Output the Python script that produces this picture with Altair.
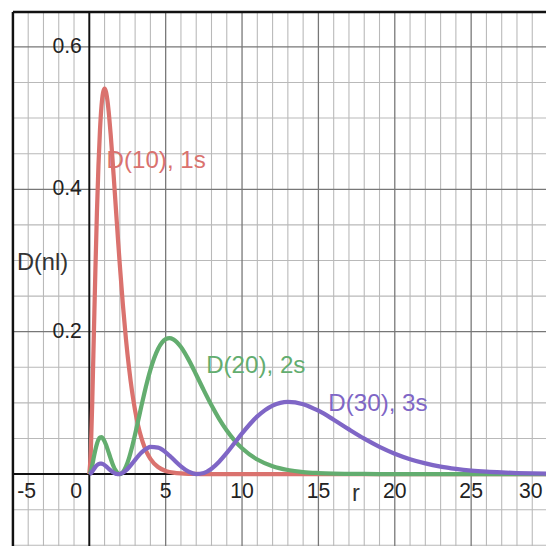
import altair as alt
import pandas as pd

# radial positions (Bohr radii)
r = [0, 0.1, 0.2, 0.3, 0.4, 0.5, 0.6, 0.7, 0.8, 0.9, 1.0, 1.1, 1.2, 1.3, 1.4, 1.5, 1.6, 1.7, 1.8, 1.9, 2.0,
     2.2, 2.4, 2.6, 2.8, 3.0, 3.2, 3.4, 3.6, 3.8, 4.0,
     4.5, 5.0, 5.25, 5.5, 6.0, 6.5, 7.0, 7.5, 8.0, 8.5, 9.0, 9.5, 10,
     11, 12, 13, 14, 15, 16, 17, 18, 19, 20, 21, 22, 23, 24, 25, 26, 27, 28, 29, 30]

d_1s = [0, 0.0327, 0.1073, 0.1976, 0.2876, 0.3679, 0.4337, 0.4833, 0.5169, 0.5356, 0.5413, 0.5363, 0.5225,
        0.5021, 0.4767, 0.4481, 0.4174, 0.3858, 0.3541, 0.3230, 0.2931,
        0.2377, 0.1896, 0.1492, 0.1160, 0.0892, 0.0681, 0.0515, 0.0387, 0.0289, 0.0215,
        0.0100, 0.0045, 0.0030, 0.0020, 0.0009, 0.0004, 0.0002, 0.0001, 0.00003, 0.00001, 0, 0, 0,
        0, 0, 0, 0, 0, 0, 0, 0, 0, 0, 0, 0, 0, 0, 0, 0, 0, 0, 0, 0]

d_2s = [0, 0.0041, 0.0133, 0.0241, 0.0343, 0.0426, 0.0484, 0.0514, 0.0518, 0.0498, 0.0460, 0.0408, 0.0347,
        0.0282, 0.0218, 0.0157, 0.0103, 0.0059, 0.0027, 0.0007, 0,
        0.0027, 0.0105, 0.0226, 0.0381, 0.0560, 0.0751, 0.0945, 0.1133, 0.1308, 0.1465,
        0.1757, 0.1895, 0.1910, 0.1893, 0.1785, 0.1608, 0.1396, 0.1176, 0.0966, 0.0776, 0.0612, 0.0475, 0.0363,
        0.0205, 0.0111, 0.0058, 0.0029, 0.0015, 0.0007, 0.0003, 0.0002, 0.0001, 0.00003,
        0, 0, 0, 0, 0, 0, 0, 0, 0, 0]

d_3s = [0, 0.0012, 0.0039, 0.0071, 0.0101, 0.0125, 0.0140, 0.0148, 0.0147, 0.0139, 0.0126, 0.0109, 0.0090,
        0.0070, 0.0051, 0.0034, 0.0020, 0.0009, 0.0002, 0.0000, 0.0002,
        0.0019, 0.0052, 0.0096, 0.0147, 0.0200, 0.0252, 0.0299, 0.0337, 0.0365, 0.0382,
        0.0373, 0.0306, 0.0259, 0.0208, 0.0109, 0.0034, 0.0001, 0.0016, 0.0076, 0.0174, 0.0297, 0.0434, 0.0571,
        0.0810, 0.0962, 0.1015, 0.0982, 0.0890, 0.0764, 0.0628, 0.0498, 0.0383, 0.0287,
        0.0210, 0.0151, 0.0106, 0.0074, 0.0050, 0.0034, 0.0023, 0.0015, 0.0010, 0.0006]

series_names = ["1s", "2s", "3s"]
series_colors = ["#da726e", "#63ad6f", "#7f66c6"]

# curve labels
curve_labels = ["D(10), 1s", "D(20), 2s", "D(30), 3s"]
curve_label_x = [1.13, 7.65, 15.65]
curve_label_y = [0.439, 0.151, 0.099]

# tick labels
x_tick_text = ["-5", "0", "5", "10", "15", "20", "25", "30"]
x_tick_pos = [-4.1, -0.86, 5, 10, 15, 20, 25, 28.9]
y_tick_text = ["0.2", "0.4", "0.6"]
y_tick_pos = [0.2, 0.4, 0.6]

# grid positions
minor_x = [v for v in range(-4, 30) if v % 5 != 0]
major_x = [5, 10, 15, 20, 25]
minor_y = [round(-0.1 + 0.05 * i, 2) for i in range(15)]
minor_y = [v for v in minor_y if abs(v / 0.2 - round(v / 0.2)) > 1e-6]
major_y = [0.2, 0.4, 0.6]

X_DOM = [-5, 29.9]
Y_DOM = [-0.101, 0.649]
xs = alt.Scale(domain=X_DOM, nice=False, zero=False)
ys = alt.Scale(domain=Y_DOM, nice=False, zero=False)

FONT = "Liberation Sans"

rows = []
for name, vals in zip(series_names, [d_1s, d_2s, d_3s]):
    for ri, v in zip(r, vals):
        rows.append({"r": ri, "D": v, "orbital": name})
df = pd.DataFrame(rows)

color_scale = alt.Scale(domain=series_names, range=series_colors)

vgrid_minor = alt.Chart(pd.DataFrame({"x": minor_x})).mark_rule(color="#b9b9b9", strokeWidth=1.1).encode(
    x=alt.X("x:Q", scale=xs, axis=None))
vgrid_major = alt.Chart(pd.DataFrame({"x": major_x})).mark_rule(color="#777777", strokeWidth=1.3).encode(
    x=alt.X("x:Q", scale=xs, axis=None))
hgrid_minor = alt.Chart(pd.DataFrame({"y": minor_y})).mark_rule(color="#b9b9b9", strokeWidth=1.1).encode(
    y=alt.Y("y:Q", scale=ys, axis=None))
hgrid_major = alt.Chart(pd.DataFrame({"y": major_y})).mark_rule(color="#777777", strokeWidth=1.3).encode(
    y=alt.Y("y:Q", scale=ys, axis=None))

axis_x0 = alt.Chart(pd.DataFrame({"x": [0]})).mark_rule(color="#111111", strokeWidth=2).encode(
    x=alt.X("x:Q", scale=xs, axis=None))
axis_y0 = alt.Chart(pd.DataFrame({"y": [0]})).mark_rule(color="#111111", strokeWidth=2).encode(
    y=alt.Y("y:Q", scale=ys, axis=None))
border_left = alt.Chart(pd.DataFrame({"x": [X_DOM[0]]})).mark_rule(color="#111111", strokeWidth=2.5).encode(
    x=alt.X("x:Q", scale=xs, axis=None))
border_top = alt.Chart(pd.DataFrame({"y": [Y_DOM[1]]})).mark_rule(color="#111111", strokeWidth=2.5).encode(
    y=alt.Y("y:Q", scale=ys, axis=None))

curves = alt.Chart(df).mark_line(strokeWidth=4.3, interpolate="monotone", clip=True).encode(
    x=alt.X("r:Q", scale=xs, axis=None),
    y=alt.Y("D:Q", scale=ys, axis=None),
    color=alt.Color("orbital:N", scale=color_scale, legend=None),
    detail="orbital:N",
)

lab_df = pd.DataFrame({"x": curve_label_x, "y": curve_label_y, "t": curve_labels, "orbital": series_names})
curve_text = alt.Chart(lab_df).mark_text(align="left", baseline="middle", fontSize=24.5, font=FONT).encode(
    x=alt.X("x:Q", scale=xs, axis=None),
    y=alt.Y("y:Q", scale=ys, axis=None),
    text="t:N",
    color=alt.Color("orbital:N", scale=color_scale, legend=None),
)

xt_df = pd.DataFrame({"x": x_tick_pos, "t": x_tick_text})
x_ticks = alt.Chart(xt_df).mark_text(align="center", baseline="middle", fontSize=21.5, font=FONT,
                                     color="#222222").encode(
    x=alt.X("x:Q", scale=xs, axis=None),
    y=alt.value(487),
    text="t:N",
)
yt_df = pd.DataFrame({"y": y_tick_pos, "t": y_tick_text})
y_ticks = alt.Chart(yt_df).mark_text(align="right", baseline="middle", fontSize=21.5, font=FONT,
                                     color="#222222").encode(
    x=alt.value(70),
    y=alt.Y("y:Q", scale=ys, axis=None),
    text="t:N",
)

ax_df = pd.DataFrame({"x": [-4.74, 17.45], "y": [0.297, -0.028], "t": ["D(nl)", "r"]})
ax_left = alt.Chart(ax_df.iloc[[0]]).mark_text(align="left", baseline="middle", fontSize=24,
                                               font=FONT, color="#333333").encode(
    x=alt.X("x:Q", scale=xs, axis=None), y=alt.Y("y:Q", scale=ys, axis=None), text="t:N")
ax_r = alt.Chart(ax_df.iloc[[1]]).mark_text(align="center", baseline="middle", fontSize=24,
                                            font=FONT, color="#333333").encode(
    x=alt.X("x:Q", scale=xs, axis=None), y=alt.Y("y:Q", scale=ys, axis=None), text="t:N")

chart = alt.layer(
    vgrid_minor, hgrid_minor, vgrid_major, hgrid_major, axis_x0, axis_y0, border_left, border_top,
    curves, curve_text, x_ticks, y_ticks, ax_left, ax_r
).properties(
    width=541, height=542,
    padding={"left": 5, "top": 0, "right": 0, "bottom": 0},
    autosize=alt.AutoSizeParams(type="none"),
).configure_view(stroke=None)

chart.save("out.html", embed_options={"renderer": "svg", "actions": False})
